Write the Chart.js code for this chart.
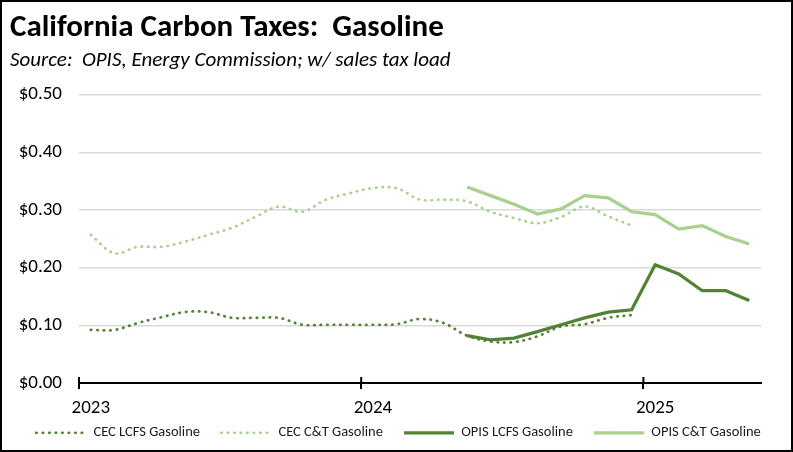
<!DOCTYPE html>
<html>
<head>
<meta charset="utf-8">
<script src="https://cdn.jsdelivr.net/npm/chart.js@4.4.1/dist/chart.umd.min.js"></script>
<style>
  html, body { margin: 0; padding: 0; background: #fff; }
  #wrap { width: 793px; height: 452px; border: 2px solid #000; box-sizing: border-box; }
  #wrap canvas { display: block; }
</style>
</head>
<body>
<div id="wrap"><canvas id="carbonChart" width="789" height="448"></canvas></div>
<script>
// ===== DATOS =====
var months = [
  '2023-01','2023-02','2023-03','2023-04','2023-05','2023-06','2023-07','2023-08','2023-09','2023-10','2023-11','2023-12',
  '2024-01','2024-02','2024-03','2024-04','2024-05','2024-06','2024-07','2024-08','2024-09','2024-10','2024-11','2024-12',
  '2025-01','2025-02','2025-03','2025-04','2025-05'
];
var yTicks = [0, 0.1, 0.2, 0.3, 0.4, 0.5];

var cecLcfs = [0.092, 0.092, 0.104, 0.114, 0.123, 0.123, 0.113, 0.113, 0.113, 0.101, 0.101, 0.101,
               0.101, 0.102, 0.111, 0.104, 0.082, 0.072, 0.071, 0.081, 0.098, 0.102, 0.113, 0.118,
               null, null, null, null, null];
var cecCt   = [0.257, 0.225, 0.236, 0.236, 0.245, 0.257, 0.269, 0.288, 0.306, 0.297, 0.318, 0.329,
               0.338, 0.338, 0.318, 0.318, 0.315, 0.297, 0.286, 0.277, 0.288, 0.306, 0.289, 0.273,
               null, null, null, null, null];
var opisLcfs = [null, null, null, null, null, null, null, null, null, null, null, null,
                null, null, null, null, 0.082, 0.075, 0.078, 0.089, 0.101, 0.113, 0.123, 0.127,
                0.205, 0.189, 0.160, 0.160, 0.143];
var opisCt   = [null, null, null, null, null, null, null, null, null, null, null, null,
                null, null, null, null, 0.340, 0.325, 0.310, 0.293, 0.302, 0.325, 0.321, 0.297,
                0.292, 0.267, 0.273, 0.254, 0.241];

var DARK = '#548235';
var LIGHT = '#A9D18E';
var FONT = "Carlito, Lato, 'Open Sans', sans-serif";

function isYearStart(i) { return months[i] && months[i].slice(5) === '01'; }

// marcas del eje x que cruzan la linea (parte de arriba) + leyenda centrada en la figura
var extras = {
  id: 'extras',
  afterLayout: function(chart) {
    // la leyenda de Excel va centrada sobre toda la figura, no solo sobre el area util
    chart.legend.left += 13;
    chart.legend.right += 13;
  },
  afterDraw: function(chart) {
    var x = chart.scales.x, ctx = chart.ctx;
    var half = (x.getPixelForValue(1) - x.getPixelForValue(0)) / 2;
    ctx.save();
    ctx.strokeStyle = '#000';
    ctx.lineWidth = 2;
    for (var i = 0; i < months.length; i++) {
      if (!isYearStart(i)) continue;
      var px = x.getPixelForValue(i) - half;
      ctx.beginPath();
      ctx.moveTo(px, x.top - 6);
      ctx.lineTo(px, x.top);
      ctx.stroke();
    }
    ctx.restore();
  }
};

// leyenda con el estilo de linea de cada serie
function legendLabels(chart) {
  var n = chart.data.datasets.length;
  return chart.data.datasets.map(function(ds, i) {
    return {
      text: ds.label + (i < n - 1 ? '    ' : ''),
      strokeStyle: ds.borderColor,
      fillStyle: ds.borderColor,
      lineWidth: ds.borderWidth,
      lineDash: ds.borderDash || [],
      lineCap: ds.borderCapStyle || 'butt',
      pointStyle: 'line',
      fontColor: '#1a1a1a',
      datasetIndex: i,
      hidden: false
    };
  });
}

var ctx = document.getElementById('carbonChart');
new Chart(ctx, {
  type: 'line',
  data: {
    labels: months,
    datasets: [
      { label: 'CEC LCFS Gasoline', data: cecLcfs, borderColor: DARK, borderWidth: 2.7,
        borderDash: [0.5, 6], borderCapStyle: 'round', tension: 0.35 },
      { label: 'CEC C&T Gasoline', data: cecCt, borderColor: LIGHT, borderWidth: 2.7,
        borderDash: [0.5, 6], borderCapStyle: 'round', tension: 0.35 },
      { label: 'OPIS LCFS Gasoline', data: opisLcfs, borderColor: DARK, borderWidth: 3.25, tension: 0 },
      { label: 'OPIS C&T Gasoline', data: opisCt, borderColor: LIGHT, borderWidth: 3.25, tension: 0 }
    ]
  },
  options: {
    responsive: false,
    animation: false,
    spanGaps: false,
    elements: { point: { radius: 0 } },
    layout: { padding: { left: 8, right: 30, top: 0, bottom: 0 } },
    plugins: {
      title: {
        display: true, text: 'California Carbon Taxes:  Gasoline', align: 'start', color: '#000',
        font: { family: FONT, size: 31, weight: 'bold', lineHeight: 1.2 }, padding: { top: 7.7, bottom: 0 }
      },
      subtitle: {
        display: true, text: 'Source:  OPIS, Energy Commission; w/ sales tax load', align: 'start', color: '#000',
        font: { family: FONT, size: 21, style: 'italic', lineHeight: 1.2 }, padding: { top: 1, bottom: 21.6 }
      },
      legend: {
        position: 'bottom',
        labels: {
          usePointStyle: true, pointStyle: 'line', pointStyleWidth: 50, boxHeight: 12,
          padding: 8, color: '#1a1a1a', font: { family: FONT, size: 14.5 },
          generateLabels: legendLabels
        }
      },
      tooltip: { enabled: false }
    },
    scales: {
      x: {
        offset: true,
        grid: {
          offset: true, drawOnChartArea: false, drawTicks: true, tickLength: 6, lineWidth: 2,
          color: function(c) { return isYearStart(c.index) ? '#000' : 'rgba(0,0,0,0)'; }
        },
        border: { display: true, color: '#000', width: 2 },
        ticks: {
          autoSkip: false, maxRotation: 0, padding: 10, color: '#000',
          font: { family: FONT, size: 19, lineHeight: 1 },
          callback: function(v, i) { return isYearStart(i) ? months[i].slice(0, 4) : ''; }
        },
        afterFit: function(s) { s.height = 34.5; }
      },
      y: {
        min: 0, max: 0.5,
        afterBuildTicks: function(s) { s.ticks = yTicks.map(function(v) { return { value: v }; }); },
        grid: { color: '#d9d9d9', lineWidth: 1.5, drawTicks: false },
        border: { display: false },
        ticks: {
          padding: 17, color: '#000', font: { family: FONT, size: 19 },
          callback: function(v) { return '$' + Number(v).toFixed(2); }
        },
        afterFit: function(s) { s.width = 69; }
      }
    }
  },
  plugins: [extras]
});
</script>
</body>
</html>
